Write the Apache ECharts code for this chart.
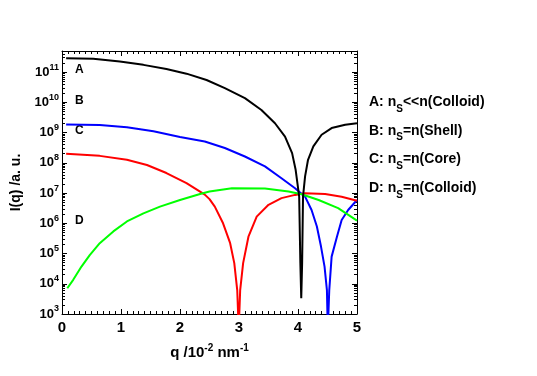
<!DOCTYPE html>
<html>
<head>
<meta charset="utf-8">
<script src="https://cdn.jsdelivr.net/npm/echarts@6/dist/echarts.min.js"></script>
<style>
    html, body { margin: 0; padding: 0; background: #fff; }
    #chart { width: 537px; height: 376px; }
</style>
</head>
<body>
<div id="chart"></div>
<script>
// curve A (black)
const qA = [0.07, 0.53, 0.98, 1.38, 1.77, 2.11, 2.45, 2.76, 3.10, 3.38, 3.61, 3.78, 3.90, 3.96, 3.99, 4.02, 4.04, 4.055, 4.07, 4.085, 4.12, 4.17, 4.26, 4.40, 4.57, 4.80, 5.0]
const iA = [2.88e11, 2.75e11, 2.24e11, 1.74e11, 1.26e11, 8.9e10, 5.5e10, 2.95e10, 1.38e10, 5.6e9, 2.04e9, 7.4e8, 2.09e8, 5.9e7, 2.14e7, 7.6e6, 4.8e4, 3.3e3, 4.8e4, 7.6e6, 3.55e7, 1.26e8, 3.5e8, 8.5e8, 1.41e9, 1.82e9, 2.04e9]

// curve C (blue)
const qC = [0.07, 0.64, 1.10, 1.55, 2.0, 2.42, 2.76, 3.10, 3.44, 3.72, 3.95, 4.12, 4.23, 4.32, 4.39, 4.45, 4.49, 4.505, 4.53, 4.57, 4.66, 4.74, 4.85, 5.0]
const iC = [1.86e9, 1.78e9, 1.51e9, 1.1e9, 7.1e8, 5.1e8, 3.1e8, 1.62e8, 7.6e7, 3.1e7, 1.45e7, 7.6e6, 2.75e6, 7.8e5, 1.7e5, 3.7e4, 6.2e3, 3.0e2, 6.2e3, 7.9e4, 3.6e5, 1.29e6, 2.75e6, 5.9e6]

// red curve
const qR = [0.07, 0.64, 1.10, 1.44, 1.77, 2.11, 2.34, 2.42, 2.50, 2.59, 2.73, 2.85, 2.92, 2.97, 2.995, 3.02, 3.07, 3.16, 3.30, 3.50, 3.72, 3.95, 4.12, 4.46, 4.74, 5.0]
const iR = [2.0e8, 1.7e8, 1.26e8, 8.5e7, 4.6e7, 2.14e7, 1.12e7, 8.9e6, 6.3e6, 3.55e6, 1.0e6, 2.2e5, 4.8e4, 6.2e3, 3.0e2, 6.2e3, 4.8e4, 3.6e5, 1.66e6, 4.1e6, 6.8e6, 8.7e6, 9.8e6, 9.3e6, 7.6e6, 5.6e6]

// curve D (green)
const qD = [0.09, 0.19, 0.33, 0.47, 0.64, 0.87, 1.10, 1.38, 1.66, 2.0, 2.34, 2.5, 2.88, 3.44, 3.84, 4.06, 4.35, 4.68, 5.0]
const iD = [7.1e3, 1.35e4, 3.7e4, 8.9e4, 2.2e5, 5.4e5, 1.15e6, 2.14e6, 3.55e6, 5.9e6, 9.3e6, 1.12e7, 1.45e7, 1.41e7, 1.12e7, 9.1e6, 5.9e6, 3.16e6, 1.23e6]

const xTicks = [0, 1, 2, 3, 4, 5]
const legendLines = [
    ['A: n', 'S', '<<n(Colloid)'],
    ['B: n', 'S', '=n(Shell)'],
    ['C: n', 'S', '=n(Core)'],
    ['D: n', 'S', '=n(Colloid)']
]
const curveTags = ['A', 'B', 'C', 'D']

const FONT = 'Liberation Sans'
const pairs = (qs, vs) => qs.map((q, i) => [q, vs[i]])

const makeLine = (name, qs, vs, color) => {
    return {
        name,
        type: 'line',
        data: pairs(qs, vs),
        showSymbol: false,
        clip: true,
        lineStyle: { color, width: 2 },
        itemStyle: { color },
        z: name === 'A' ? 4 : 3
    }
}

const supRich = {
    b: { fontFamily: FONT, fontWeight: 'bold', fontSize: 13, color: '#000' },
    s: { fontFamily: FONT, fontWeight: 'bold', fontSize: 9, color: '#000', padding: [0, 0, 10, 0] }
}

const baseX = {
    type: 'value',
    min: 0,
    max: 5,
    interval: 1,
    axisLine: { show: true, onZero: false, lineStyle: { color: '#000', width: 1 } },
    axisTick: { show: true, inside: true, length: 5, lineStyle: { color: '#000' } },
    minorTick: { show: true, splitNumber: 10, length: 3, lineStyle: { color: '#000' } },
    splitLine: { show: false }
}
const baseY = {
    type: 'log',
    logBase: 10,
    min: 1e3,
    max: 5e11,
    axisLine: { show: true, onZero: false, lineStyle: { color: '#000', width: 1 } },
    axisTick: { show: true, inside: true, length: 5, lineStyle: { color: '#000' } },
    minorTick: { show: true, splitNumber: 9, length: 3, lineStyle: { color: '#000' } },
    splitLine: { show: false }
}

const option = {
    animation: false,
    backgroundColor: '#fff',
    grid: { left: 62, right: 180, top: 51, bottom: 62 },
    xAxis: [
        Object.assign({}, baseX, {
            position: 'bottom',
            axisLabel: {
                margin: 6,
                fontFamily: FONT,
                fontWeight: 'bold',
                fontSize: 15,
                color: '#000',
                formatter: v => (xTicks.indexOf(v) >= 0 ? String(v) : '')
            },
            name: '{t|q /10}{s|-2}{t| nm}{s|-1}',
            nameLocation: 'middle',
            nameGap: 29,
            nameTextStyle: {
                rich: {
                    t: { fontFamily: FONT, fontWeight: 'bold', fontSize: 15, color: '#000' },
                    s: { fontFamily: FONT, fontWeight: 'bold', fontSize: 10, color: '#000', padding: [0, 0, 9, 0] }
                }
            }
        }),
        Object.assign({}, baseX, {
            position: 'top',
            axisLabel: { show: false }
        })
    ],
    yAxis: [
        Object.assign({}, baseY, {
            position: 'left',
            axisLabel: {
                margin: 3,
                formatter: v => {
                    const p = Math.round(Math.log10(v))
                    if (Math.abs(Math.log10(v) - p) > 1e-6) return ''
                    return '{b|10}{s|' + p + '}'
                },
                rich: supRich
            },
            name: 'I(q) /a. u.',
            nameLocation: 'middle',
            nameGap: 38,
            nameRotate: 90,
            nameTextStyle: { fontFamily: FONT, fontWeight: 'bold', fontSize: 14, color: '#000' }
        }),
        Object.assign({}, baseY, {
            position: 'right',
            axisLabel: { show: false }
        })
    ],
    series: [
        makeLine('A', qA, iA, '#000000'),
        makeLine('C', qC, iC, '#0000ff'),
        makeLine('R', qR, iR, '#ff0000'),
        makeLine('D', qD, iD, '#00ff00')
    ],
    graphic: [
        ...curveTags.map((t, i) => ({
            type: 'text',
            left: 75,
            top: [64, 95, 125, 215][i],
            style: { text: t, font: 'bold 12px "' + FONT + '"', fill: '#000' }
        })),
        ...legendLines.map((ln, i) => ({
            type: 'text',
            left: 369,
            top: 95 + i * 28.7,
            style: {
                text: '{t|' + ln[0] + '}{s|' + ln[1] + '}{t|' + ln[2] + '}',
                rich: {
                    t: { fontFamily: FONT, fontWeight: 'bold', fontSize: 14, fill: '#000', lineHeight: 20 },
                    s: { fontFamily: FONT, fontWeight: 'bold', fontSize: 10, fill: '#000', padding: [14, 0, 0, 0] }
                }
            }
        }))
    ]
}

const chart = echarts.init(document.getElementById('chart'))
chart.setOption(option)
</script>
</body>
</html>
